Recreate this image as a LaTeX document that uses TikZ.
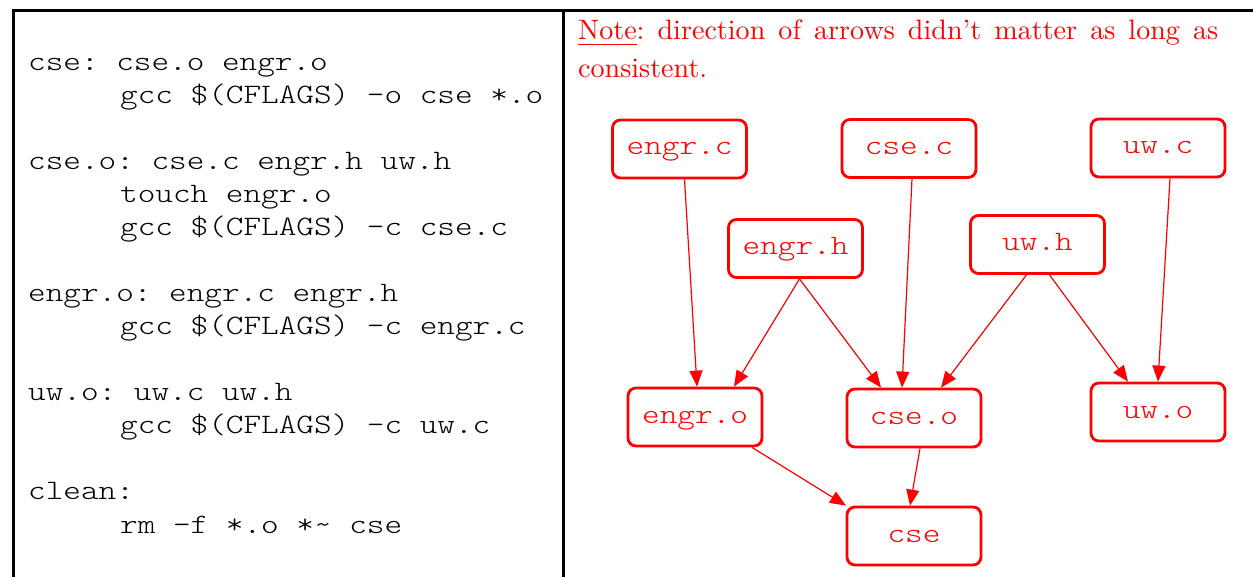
\documentclass[tikz,border=0pt]{standalone}
\usepackage{graphicx}
\usepackage{fontspec}
\newfontfamily\codefont[FakeStretch=1.195]{lmmonolt10-regular.otf}
\usetikzlibrary{arrows.meta}
\newcommand\ind{\hspace*{92bp}}

\begin{document}
\begin{tikzpicture}[x=1bp,y=-1bp,
  frame/.style={line width=3bp, black},
  code/.style={inner sep=0pt, align=left,
    font=\codefont\fontsize{28.2}{33.14}\selectfont\frenchspacing},
  filebox/.style={draw=red, text=red, line width=2.8bp, rounded corners=8bp,
    minimum width=134bp, minimum height=58bp, inner sep=0pt,
    text height=18bp, text depth=6bp,
    font=\codefont\fontsize{28.2}{33}\selectfont},
  dep/.style={red, line width=1.2bp, -{Triangle[length=16bp,width=13bp]}}]
\useasboundingbox (0,0) rectangle (1253,577);

% table rules
\draw[frame] (13.8,577) -- (13.8,10.7) -- (1253,10.7);
\draw[frame] (563.5,10.7) -- (563.5,577);

% makefile (node base = baseline of its last line)
\node[code, anchor=base west] (make) at (28,533) {%
cse: cse.o engr.o\\
\ind gcc \$(CFLAGS) -o cse *.o\\
\mbox{}\\
cse.o: cse.c engr.h uw.h\\
\ind touch engr.o\\
\ind gcc \$(CFLAGS) -c cse.c\\
\mbox{}\\
engr.o: engr.c engr.h\\
\ind gcc \$(CFLAGS) -c engr.c\\
\mbox{}\\
uw.o: uw.c uw.h\\
\ind gcc \$(CFLAGS) -c uw.c\\
\mbox{}\\
clean:\\
\ind rm -f *.o *\textasciitilde{} cse};

% note, set at 10pt and enlarged
\node[anchor=base west, inner sep=0pt, text=red] (note) at (578,40)
  {\scalebox{2.82}{\begin{minipage}[t]{226.95bp}
   \fontsize{10}{13.3}\selectfont\hyphenpenalty=10000\frenchspacing
   \underline{Note}: direction of arrows didn't matter as long as
   \mbox{consistent.}\end{minipage}}};

% dependency graph
\node[filebox] (engrc) at (679.5,149) {engr.c};
\node[filebox] (csec)  at (909,148.5) {cse.c};
\node[filebox] (uwc)   at (1158,148) {uw.c};
\node[filebox] (engrh) at (795.5,248.5) {engr.h};
\node[filebox] (uwh)   at (1037.5,244.5) {uw.h};
\node[filebox] (engro) at (695,417) {engr.o};
\node[filebox] (cseo)  at (914,418) {cse.o};
\node[filebox] (uwo)   at (1158,412) {uw.o};
\node[filebox] (cse)   at (914,536) {cse};

\draw[dep] ([xshift=5bp]engrc.south) -- ([xshift=2bp]engro.north);
\draw[dep] ([xshift=4bp]engrh.south) -- ([xshift=39bp]engro.north);
\draw[dep] ([xshift=4bp]engrh.south) -- ([xshift=-33bp]cseo.north);
\draw[dep] ([xshift=3bp]csec.south) -- ([xshift=-12bp]cseo.north);
\draw[dep] ([xshift=-11bp]uwh.south) -- ([xshift=27bp]cseo.north);
\draw[dep] ([xshift=12bp]uwh.south) -- ([xshift=-30bp]uwo.north);
\draw[dep] ([xshift=12bp]uwc.south) -- (uwo.north);
\draw[dep] ([xshift=57bp]engro.south) -- ([xshift=-68bp]cse.north);
\draw[dep] ([xshift=6bp]cseo.south) -- ([xshift=-4bp]cse.north);
\end{tikzpicture}
\end{document}
